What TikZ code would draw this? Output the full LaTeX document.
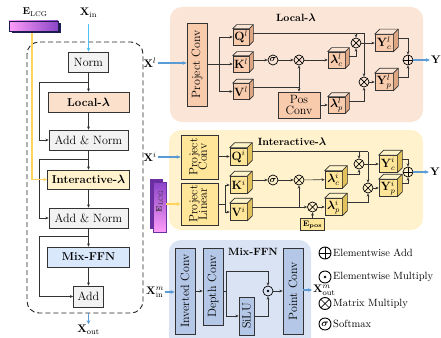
\documentclass[tikz,border=0pt]{standalone}
\usepackage{bm}
\usepackage{graphicx}
\usetikzlibrary{arrows.meta}

\definecolor{linec}{HTML}{333333}
\definecolor{panelL}{HTML}{FBE5D6}
\definecolor{panelI}{HTML}{FFF2CC}
\definecolor{panelM}{HTML}{DAE3F3}
\definecolor{peachbox}{HTML}{F8CBAD}
\definecolor{yelbox}{HTML}{FFE699}
\definecolor{mixbox}{HTML}{B4C7E7}
\definecolor{greybox}{HTML}{F2F2F2}
\definecolor{localbox}{HTML}{FBE0CC}
\definecolor{interbox}{HTML}{FFF2CC}
\definecolor{mixffnbox}{HTML}{DAE8FC}
\definecolor{cubeLfront}{HTML}{F8CBAD}
\definecolor{cubeLtop}{HTML}{FCE4D4}
\definecolor{cubeLside}{HTML}{DDA581}
\definecolor{cubeIfront}{HTML}{FFE699}
\definecolor{cubeItop}{HTML}{FFF3C8}
\definecolor{cubeIside}{HTML}{E2C05A}
\definecolor{arrowblue}{HTML}{5B9BD5}
\definecolor{skyblue}{HTML}{4FC1F0}
\definecolor{goldline}{HTML}{FFD45C}
\definecolor{elpink}{HTML}{FF9CF8}
\definecolor{elpurple}{HTML}{8B45C8}
\definecolor{elnavy}{HTML}{1C1C4E}
\definecolor{elback}{HTML}{6A2FA0}

\newcommand{\fntbox}{\fontsize{12}{12.5}\selectfont}
\newcommand{\fntbold}{\fontsize{11.5}{12}\selectfont\bfseries}
\newcommand{\fnttitle}{\fontsize{10.5}{11}\selectfont\bfseries}
\newcommand{\fntlab}{\fontsize{11}{11}\selectfont}
\newcommand{\fntcube}{\fontsize{11.5}{11.5}\selectfont}
\newcommand{\fntleg}{\fontsize{10.5}{11}\selectfont}
\newcommand{\fntsmall}{\fontsize{8}{8}\selectfont}

% 3-D feature block: name, front-face centre, width, height, depth, label, colour family
\newcommand{\cubeat}[7]{%
  \node[draw=linec, line width=0.6pt, fill=cube#7front, minimum width=#3pt,
        minimum height=#4pt, inner sep=0pt, font=\fntcube] (#1) at #2 {#6};
  \filldraw[draw=linec, fill=cube#7top, line width=0.6pt, line join=round]
    (#1.north west) -- ++(#5pt,#5pt) -- ([shift={(#5pt,#5pt)}]#1.north east)
    -- (#1.north east) -- cycle;
  \filldraw[draw=linec, fill=cube#7side, line width=0.6pt, line join=round]
    (#1.north east) -- ++(#5pt,#5pt) -- ([shift={(#5pt,#5pt)}]#1.south east)
    -- (#1.south east) -- cycle;
  \coordinate (#1-o) at ([shift={(#5pt,#5pt)}]#1.east);
}

\tikzset{
  blk/.style={draw=linec, line width=0.7pt, inner sep=0pt, font=\fntbox, align=center},
  lab/.style={inner sep=1pt, font=\fntlab},
  ln/.style={draw=linec, line width=0.6pt},
  arr/.style={ln, -{Stealth[length=3.2pt,width=2.8pt]}},
  barr/.style={draw=arrowblue, line width=1.1pt, -{Stealth[length=4pt,width=3.6pt]}},
  sarr/.style={draw=skyblue, line width=1.1pt, -{Stealth[length=4pt,width=3.6pt]}},
  yarr/.style={draw=goldline, line width=1.1pt, -{Stealth[length=4pt,width=3.6pt]}},
  opbase/.style={circle, draw=black, line width=0.7pt, minimum size=10pt, inner sep=0pt},
  otimes/.style={opbase, path picture={\draw[line width=0.7pt]
      (path picture bounding box.south west) -- (path picture bounding box.north east)
      (path picture bounding box.north west) -- (path picture bounding box.south east);}},
  oplus/.style={opbase, path picture={\draw[line width=0.7pt]
      (path picture bounding box.north) -- (path picture bounding box.south)
      (path picture bounding box.west) -- (path picture bounding box.east);}},
  odot/.style={opbase, path picture={\fill (path picture bounding box.center) circle (1.3pt);}},
  osig/.style={opbase, font=\fontsize{9}{9}\selectfont},
  leg/.style={inner sep=0pt, font=\fntleg, anchor=west},
}

\begin{document}
\begin{tikzpicture}[x=1pt,y=-1pt]
\useasboundingbox (0,0) rectangle (441,337);
\clip (0,0) rectangle (441,337);
\fill[white] (0,0) rectangle (441,337);

% ---------------- background panels ----------------
\fill[panelL, rounded corners=12pt] (170,7) rectangle (423,122);
\fill[panelI, rounded corners=12pt] (169,130) rectangle (423,230);
\fill[panelM, rounded corners=12pt] (169,240) rectangle (311,352);

% ---------------- encoder block (left) ----------------
\draw[black!85, line width=0.9pt, dash pattern=on 5pt off 3pt, rounded corners=12pt]
  (27,42) rectangle (143,313);

\node[lab] (xin) at (88.5,13) {$\mathbf{X}_{\mathrm{in}}$};
\node[blk, fill=greybox, minimum width=40pt, minimum height=20pt] (norm) at (88.5,62) {Norm};
\node[blk, fill=localbox, minimum width=81pt, minimum height=20pt, font=\fntbold] (local) at (88.5,102) {Local-$\bm{\lambda}$};
\node[blk, fill=greybox, minimum width=79pt, minimum height=20pt] (an1) at (88.5,140) {Add \& Norm};
\node[blk, fill=interbox, minimum width=82pt, minimum height=19pt, font=\fntbold] (inter) at (88.5,179.5) {Interactive-$\bm{\lambda}$};
\node[blk, fill=greybox, minimum width=79pt, minimum height=20pt] (an2) at (88.5,218) {Add \& Norm};
\node[blk, fill=mixffnbox, minimum width=82pt, minimum height=20pt, font=\fntbold] (mix) at (88.5,257) {Mix-FFN};
\node[blk, fill=greybox, minimum width=30pt, minimum height=21pt] (add) at (88.5,296.5) {Add};
\node[lab] (xout) at (88.5,330) {$\mathbf{X}_{\mathrm{out}}$};

\draw[sarr, shorten <=5pt] (xin.south) -- (norm.north);
\draw[arr] (norm) -- (local);
\draw[arr] (local) -- (an1);
\draw[arr] (an1) -- (inter);
\draw[arr] (inter) -- (an2);
\draw[arr] (an2) -- (mix);
\draw[arr] (mix) -- (add);
\draw[barr] ([yshift=-6pt]add.south) -- (xout.north);

% residual paths
\coordinate (r1) at (88.5,82);
\coordinate (r2) at (88.5,159);
\coordinate (r3) at (88.5,236);
\draw[arr] (r1) -- ++(-49.5,0) |- (an1.west);
\draw[arr] (r2) -- ++(-49.5,0) |- (an2.west);
\draw[arr] (r3) -- ++(-49.5,0) |- (add.west);

% LCG embedding feeding the interactive branch
\coordinate (eyel) at (32,32);
\draw[yarr] (eyel) |- (inter.west);
\node[inner sep=0pt, minimum width=49pt, minimum height=10pt, fill=elnavy] (elcgAs) at (36.5,28.5) {};
\node[inner sep=0pt, minimum width=49pt, minimum height=10pt, draw=elnavy, line width=0.4pt,
      left color=elpink, right color=elpurple] (elcgA) at (33.5,26) {};
\node[lab, font=\fontsize{10}{10}\selectfont] (elcgAl) at (35,12) {$\mathbf{E}_{\mathrm{LCG}}$};

% ---------------- Local-lambda ----------------
\node[font=\fnttitle] (tL) at (296,18) {Local-$\bm{\lambda}$};
\node[lab] (xl) at (150,63) {$\mathbf{X}^{l}$};
\node[blk, fill=peachbox, minimum width=20pt, minimum height=83pt] (pcL) at (197,64.5) {\rotatebox{90}{Project Conv}};
\draw[barr] (xl.east) -- (pcL.west |- xl.east);

\cubeat{qL}{(241,37)}{16}{16}{4}{$\mathbf{Q}^{l}$}{L}
\cubeat{kL}{(241,64)}{16}{16}{4}{$\mathbf{K}^{l}$}{L}
\cubeat{vL}{(241,91.5)}{16}{16}{4}{$\mathbf{V}^{l}$}{L}
\coordinate (brL) at (219,64.5);
\draw[ln] (pcL.east |- brL) -- (brL);
\draw[arr] (brL) |- (qL.west);
\draw[arr] (brL) |- (kL.west);
\draw[arr] (brL) |- (vL.west);

\node[osig] (sgL) at (273,60) {$\bm{\sigma}$};
\node[otimes] (mcL) at (299,60) {};
\draw[arr] (kL-o) -- (sgL);
\draw[arr] (sgL) -- (mcL);

\node[blk, fill=peachbox, minimum width=42pt, minimum height=26pt, font=\fontsize{12}{11.5}\selectfont] (posL) at (299,105) {Pos\\Conv};
\coordinate (jvL) at (299,87.5);
\draw[ln] (vL-o) -- (jvL);
\draw[arr] (jvL) -- (mcL);
\draw[arr] (jvL) -- (posL);

\cubeat{lcL}{(336.5,60)}{17}{16}{4}{$\bm{\lambda}^{l}_{c}$}{L}
\cubeat{lpL}{(336.5,105)}{17}{16}{4}{$\bm{\lambda}^{l}_{p}$}{L}
\draw[arr] (mcL) -- (lcL);
\draw[arr] (posL.east |- lpL.west) -- (lpL.west);

\node[otimes] (m2L) at (356,43) {};
\node[otimes] (m3L) at (364,82) {};
\coordinate (jqL) at (364,33);
\draw[ln] (qL-o) -- (jqL);
\draw[arr] (qL-o -| m2L) -- (m2L);
\draw[arr] (jqL) -- (m3L);
\draw[arr] (lcL-o) -| (m2L);
\draw[arr] (lpL-o) -| (m3L);

\cubeat{ycL}{(384,43)}{18}{17}{5}{$\mathbf{Y}^{l}_{c}$}{L}
\cubeat{ypL}{(384,82)}{18}{17}{5}{$\mathbf{Y}^{l}_{p}$}{L}
\draw[arr] (m2L) -- (ycL);
\draw[arr] (m3L) -- (ypL);
\node[oplus] (adL) at (408,60) {};
\draw[arr] (ycL-o) -| (adL);
\draw[arr] (ypL-o) -| (adL);
\node[lab] (yL) at (436,60) {$\mathbf{Y}$};
\draw[barr] (adL) -- (yL);

% ---------------- Interactive-lambda ----------------
\node[font=\fnttitle] (tI) at (292,142) {Interactive-$\bm{\lambda}$};
\node[lab] (xi) at (150,157) {$\mathbf{X}^{i}$};
\node[blk, fill=yelbox, minimum width=37pt, minimum height=44pt] (pcI) at (199.5,157)
  {\rotatebox{90}{\begin{tabular}{@{}c@{}}Project\\[-3pt]Conv\end{tabular}}};
\node[blk, fill=yelbox, minimum width=37pt, minimum height=42pt] (plI) at (199.5,204)
  {\rotatebox{90}{\begin{tabular}{@{}c@{}}Project\\[-3pt]Linear\end{tabular}}};
\draw[barr] (xi.east) -- (pcI.west |- xi.east);

\node[inner sep=0pt, minimum width=13pt, minimum height=50pt, fill=elback] (elcgBs) at (156.5,204) {};
\node[inner sep=0pt, minimum width=13pt, minimum height=50pt, draw=elback, line width=0.4pt,
      top color=elpurple, bottom color=elpink] (elcgB) at (159.5,207) {};
\node[rotate=90, inner sep=0pt, font=\fntsmall, text=black!80] (elcgBl) at (159.5,201) {$\mathbf{E}_{\mathrm{LCG}}$};
\draw[yarr] (elcgB.east |- plI.west) -- (plI.west);

\cubeat{qI}{(238.5,156.5)}{17}{17}{5}{$\mathbf{Q}^{i}$}{I}
\cubeat{kI}{(238.5,185)}{17}{17}{5}{$\mathbf{K}^{i}$}{I}
\cubeat{vI}{(238.5,212)}{17}{17}{5}{$\mathbf{V}^{i}$}{I}
\draw[arr] (pcI.east |- qI.west) -- (qI.west);
\coordinate (brI) at (225,204);
\draw[ln] (plI.east |- brI) -- (brI);
\draw[arr] (brI) |- (kI.west);
\draw[arr] (brI) |- (vI.west);

\node[osig] (sgI) at (273,180) {$\bm{\sigma}$};
\node[otimes] (mcI) at (299,180) {};
\draw[arr] (kI-o) -- (sgI);
\draw[arr] (sgI) -- (mcI);

\node[otimes] (mpI) at (312.5,207) {};
\draw[arr] (vI-o) -- (mpI);
\draw[arr] (vI-o -| mcI) -- (mcI);
\node[blk, fill=yelbox, minimum width=24pt, minimum height=12pt, font=\fontsize{8.5}{9}\selectfont] (epos) at (312.5,224.5) {$\mathbf{E}_{\mathbf{pos}}$};
\draw[arr] (epos) -- (mpI);

\cubeat{lcI}{(333.5,179.5)}{17}{17}{5}{$\bm{\lambda}^{i}_{c}$}{I}
\cubeat{lpI}{(333.5,207)}{17}{17}{5}{$\bm{\lambda}^{i}_{p}$}{I}
\draw[arr] (mcI) -- (lcI);
\draw[arr] (mpI) -- (lpI);

\node[otimes] (m2I) at (359,164) {};
\node[otimes] (m3I) at (368,188) {};
\coordinate (jqI) at (368,151.5);
\draw[ln] (qI-o) -- (jqI);
\draw[arr] (qI-o -| m2I) -- (m2I);
\draw[arr] (jqI) -- (m3I);
\draw[arr] (lcI-o) -| (m2I);
\draw[arr] (lpI-o) -| (m3I);

\cubeat{ycI}{(388,164)}{18}{17}{5}{$\mathbf{Y}^{i}_{c}$}{I}
\cubeat{ypI}{(388,188)}{18}{17}{5}{$\mathbf{Y}^{i}_{p}$}{I}
\draw[arr] (m2I) -- (ycI);
\draw[arr] (m3I) -- (ypI);
\node[oplus] (adI) at (408,172) {};
\draw[arr] (ycI-o) -| (adI);
\draw[arr] (ypI-o) -| (adI);
\node[lab] (yI) at (435,172) {$\mathbf{Y}$};
\draw[barr] (adI) -- (yI);

% ---------------- Mix-FFN ----------------
\node[font=\fnttitle] (tM) at (253,252) {Mix-FFN};
\node[lab] (xinm) at (155,292) {$\mathbf{X}^{m}_{\mathrm{in}}$};
\node[blk, fill=mixbox, minimum width=20pt, minimum height=86pt] (invC) at (185,291) {\rotatebox{90}{Inverted Conv}};
\node[blk, fill=mixbox, minimum width=20pt, minimum height=77pt] (depC) at (213,286.5) {\rotatebox{90}{Depth Conv}};
\node[blk, fill=mixbox, minimum width=15pt, minimum height=38pt] (silu) at (246.5,316) {\rotatebox{90}{SiLU}};
\node[odot] (dotM) at (268,291) {};
\node[blk, fill=mixbox, minimum width=20pt, minimum height=86pt] (ptC) at (293,291) {\rotatebox{90}{Point Conv}};
\node[lab, anchor=west] (xoutm) at (312,290) {$\mathbf{X}^{m}_{\mathrm{out}}$};

\draw[barr] (xinm.east) -- (invC.west |- xinm.east);
\draw[arr] (invC.east |- dotM) -- (depC.west |- dotM);
\coordinate (jD) at (226,291);
\coordinate (tD) at (226,271);
\draw[ln] (depC.east |- jD) -- (jD);
\draw[arr] (jD) -- (tD) -| (dotM);
\draw[arr] (jD) |- (silu.west);
\draw[arr] (silu.east) -| (dotM);
\draw[arr] (dotM) -- (ptC.west |- dotM);
\draw[barr] (ptC.east |- xoutm.west) -- (xoutm.west);

% ---------------- legend ----------------
\node[oplus, minimum size=12pt, line width=0.9pt] (lg1) at (325,253) {};
\node[leg] (lg1t) at (333,253) {Elementwise Add};
\node[odot, minimum size=12pt, line width=0.9pt] (lg2) at (325,277) {};
\node[leg] (lg2t) at (333,277) {Elementwise Multiply};
\node[otimes, minimum size=12pt, line width=0.9pt] (lg3) at (325,303.5) {};
\node[leg] (lg3t) at (333,303.5) {Matrix Multiply};
\node[osig, minimum size=12pt, line width=0.9pt, font=\fontsize{10}{10}\selectfont] (lg4) at (325,324) {$\bm{\sigma}$};
\node[leg] (lg4t) at (333,324) {Softmax};
\end{tikzpicture}
\end{document}
